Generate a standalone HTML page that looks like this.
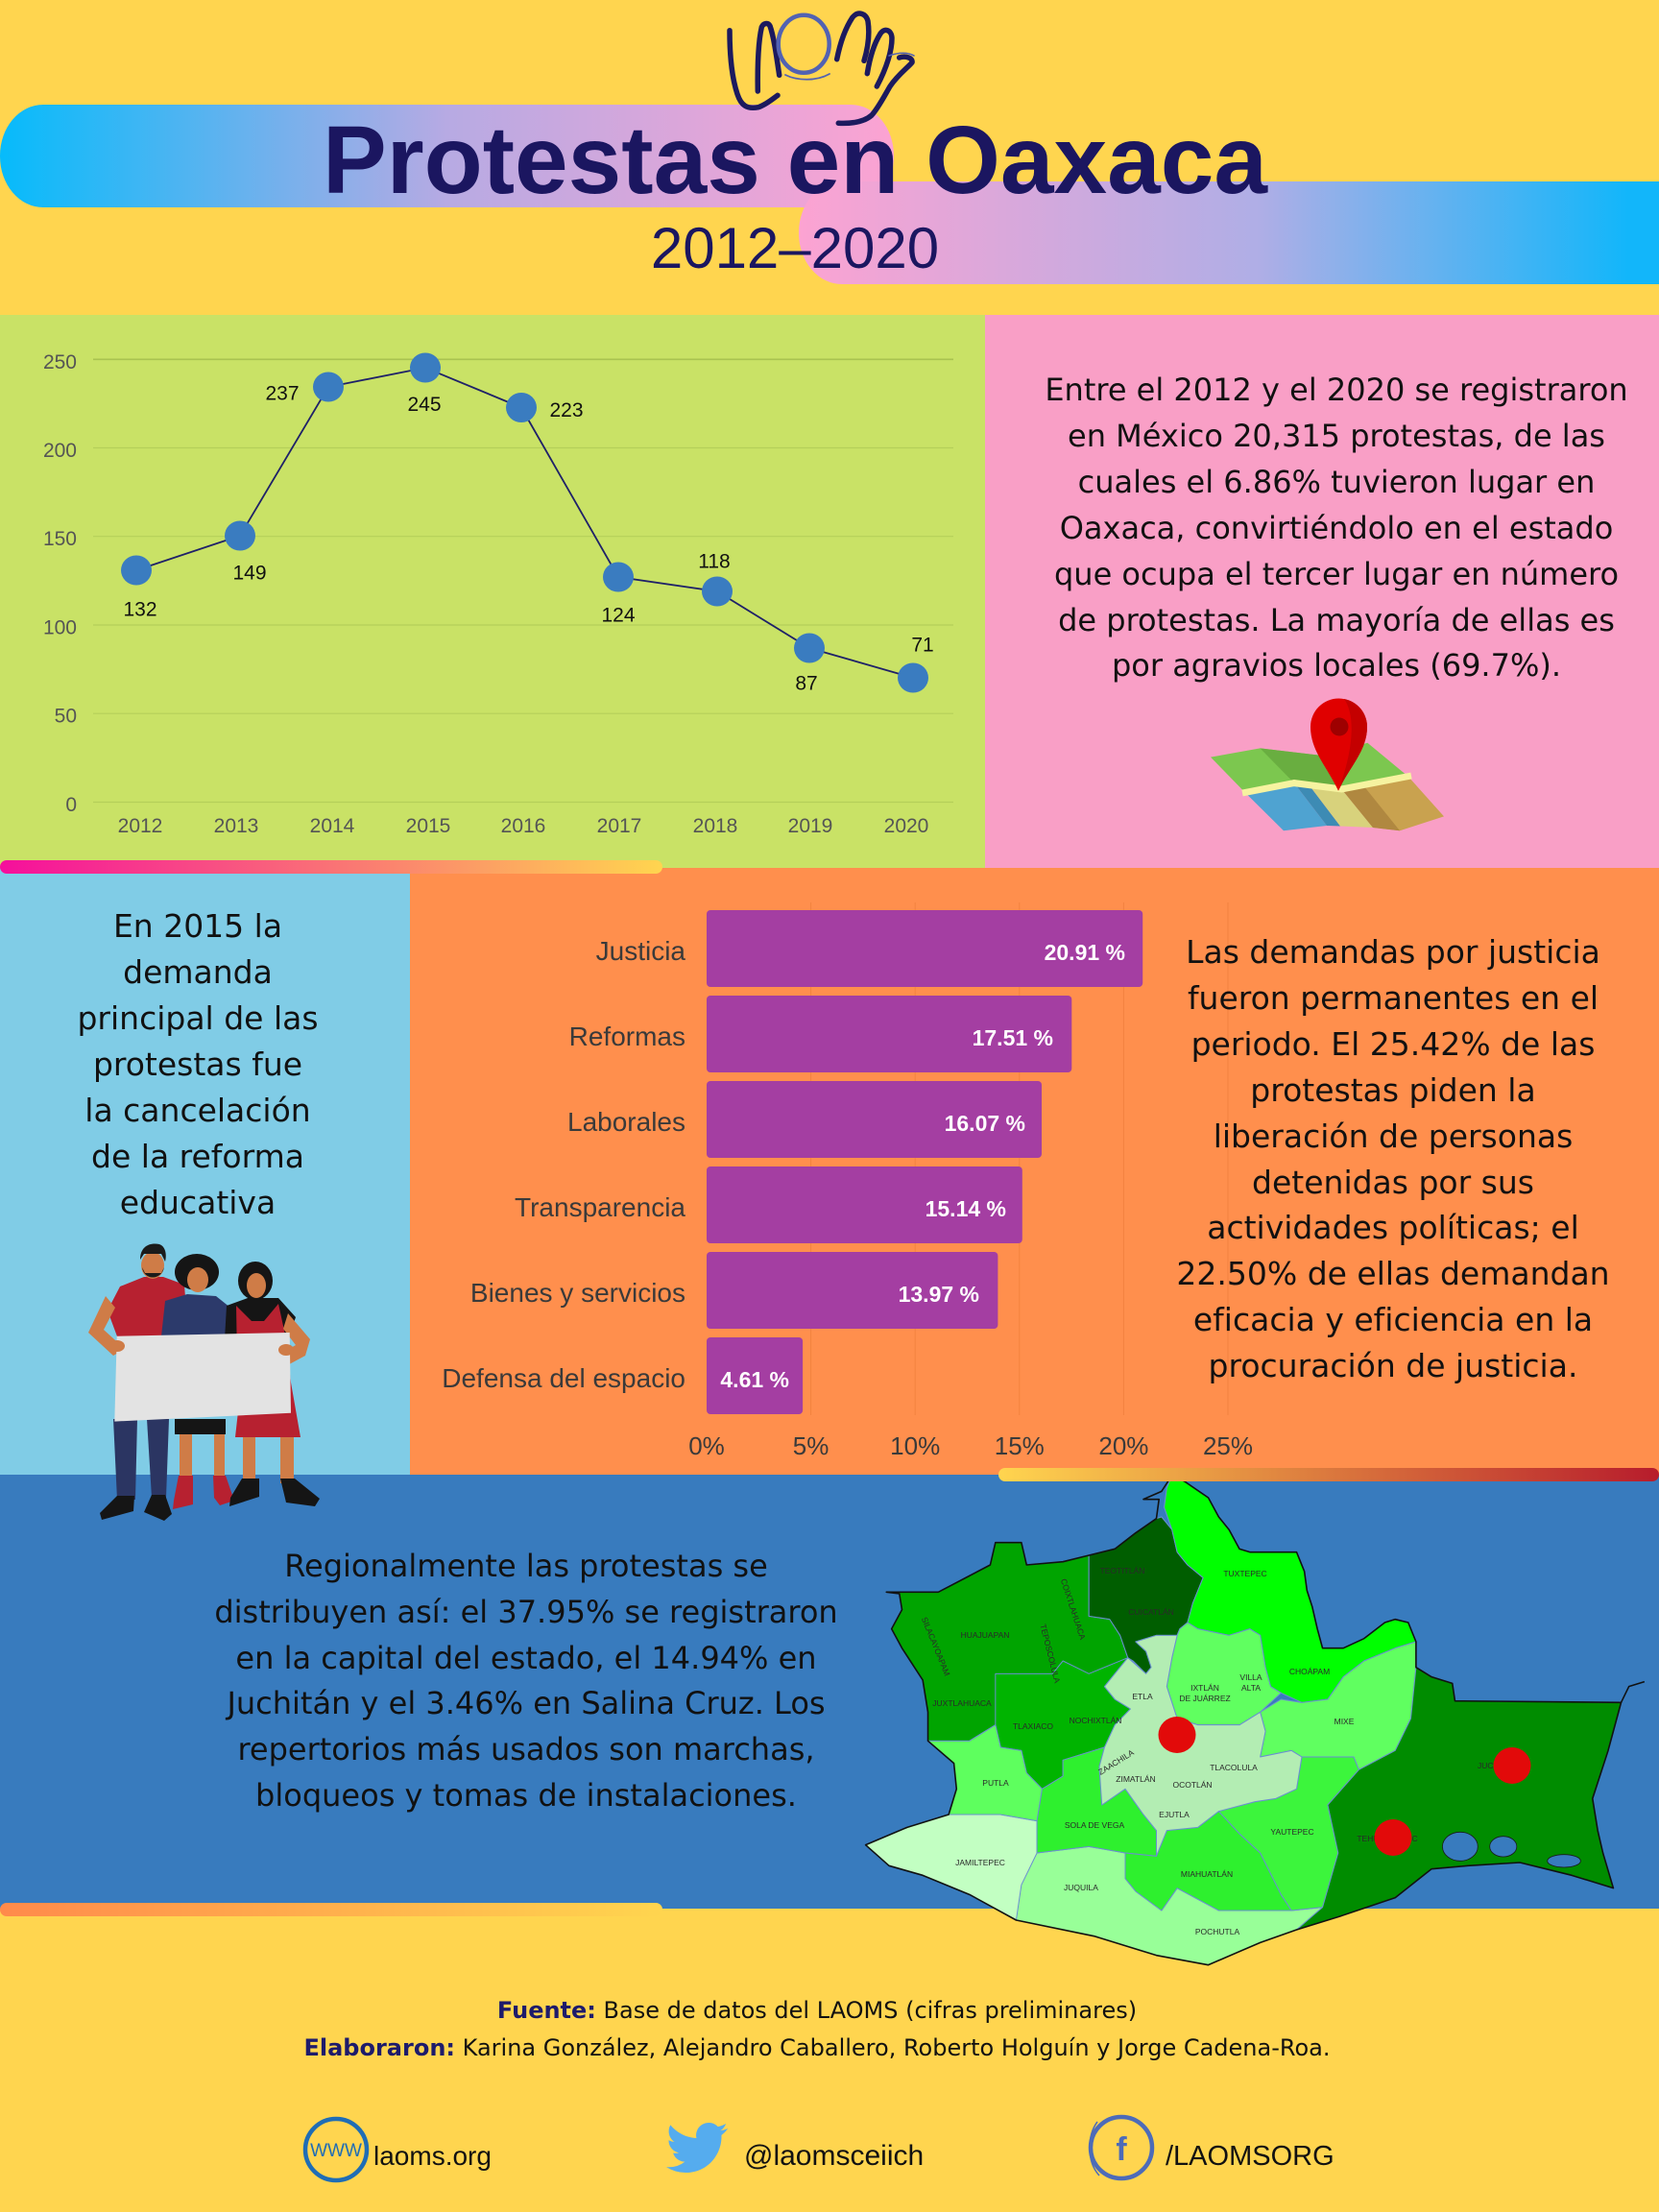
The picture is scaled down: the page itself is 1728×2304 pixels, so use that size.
<!DOCTYPE html>
<html lang="es">
<head>
<meta charset="utf-8">
<title>Protestas en Oaxaca 2012-2020</title>
<style>
  html,body{margin:0;padding:0;}
  body{width:1728px;height:2304px;position:relative;overflow:hidden;background:#FFD54F;}
  .p{position:absolute;font-family:"DejaVu Sans","Liberation Sans",sans-serif;color:#111;text-align:center;white-space:nowrap;}
  .f b{color:#1E1B6B;}
</style>
</head>
<body>
<svg xmlns="http://www.w3.org/2000/svg" width="1728" height="2304" viewBox="0 0 1728 2304" style="position:absolute;left:0;top:0">
  <defs>
    <linearGradient id="bandL" x1="0" x2="1" y1="0" y2="0">
      <stop offset="0" stop-color="#06BBFB"/><stop offset="0.5" stop-color="#B7AAE3"/><stop offset="1" stop-color="#FCA3D2"/>
    </linearGradient>
    <linearGradient id="bandR" x1="0" x2="1" y1="0" y2="0">
      <stop offset="0" stop-color="#FCA3D2"/><stop offset="0.5" stop-color="#AFAEE6"/><stop offset="0.9" stop-color="#12B6FA"/><stop offset="1" stop-color="#12B6FA"/>
    </linearGradient>
    <linearGradient id="g1" x1="0" x2="1" y1="0" y2="0">
      <stop offset="0" stop-color="#F50F9C"/><stop offset="1" stop-color="#FFD54F"/>
    </linearGradient>
    <linearGradient id="g2" x1="0" x2="1" y1="0" y2="0">
      <stop offset="0" stop-color="#FFD54F"/><stop offset="1" stop-color="#B71C2C"/>
    </linearGradient>
    <linearGradient id="g3" x1="0" x2="1" y1="0" y2="0">
      <stop offset="0" stop-color="#FF8A4B"/><stop offset="1" stop-color="#FFD54F"/>
    </linearGradient>
  </defs>

  <!-- background -->
  <rect x="0" y="0" width="1728" height="2304" fill="#FFD54F"/>

  <!-- header bands -->
  <rect x="0" y="109" width="931" height="107" rx="45" ry="53" fill="url(#bandL)"/>
  <rect x="832" y="189" width="960" height="107" rx="45" ry="53" fill="url(#bandR)"/>

  <!-- LAOMS logo -->
  <g fill="none" stroke-linecap="round" stroke-linejoin="round">
    <path d="M760,31.7 C760,55 762,80 768,98 C772,110 778,114 790,111.7 C798,109 805,103 810,99.3" stroke="#1C1A5E" stroke-width="5.5"/>
    <path d="M789.3,95 C789,75 789.5,45 793.3,28.3 C795,24 800,23 802,27 C806,38 809,60 811.7,78.3" stroke="#1C1A5E" stroke-width="5.5"/>
    <ellipse cx="837.2" cy="45.8" rx="26.5" ry="30" stroke="#5262B2" stroke-width="4.5"/>
    <path d="M818,78 C830,84 850,85 864,77" stroke="#5262B2" stroke-width="1.8"/>
    <path d="M871.7,61.7 C875,45 880,30 888,18 C894,11 902,14 904,22 C906,35 904,50 900,63.3" stroke="#1C1A5E" stroke-width="5.5"/>
    <path d="M903.3,76.7 C906,60 910,46 917,35 C922,28 929,32 929,40 C929,52 924,70 913.3,90" stroke="#1C1A5E" stroke-width="5.5"/>
    <path d="M936.7,60 C943,58 951,60 950,65 C946,70 935,78 927,90 C920,102 915,112 908,120 C900,127 888,129 873.3,128.3" stroke="#1C1A5E" stroke-width="5.5"/>
    <path d="M926,58 C935,55 945,54 952,58" stroke="#5262B2" stroke-width="1.6"/>
  </g>

  <!-- title -->
  <text x="828" y="201" text-anchor="middle" font-family="Liberation Sans, sans-serif" font-weight="bold" font-size="100" fill="#1B1660">Protestas en Oaxaca</text>
  <text x="828" y="279" text-anchor="middle" font-family="Liberation Sans, sans-serif" font-size="60" fill="#1B1660">2012–2020</text>

  <!-- panels -->
  <rect x="0" y="328" width="1026" height="576" fill="#C9E266"/>
  <rect x="1026" y="328" width="702" height="576" fill="#F99FC6"/>
  <rect x="0" y="904" width="427" height="632" fill="#80CCE6"/>
  <rect x="427" y="904" width="1301" height="632" fill="#FF8F4D"/>
  <rect x="0" y="1536" width="1728" height="452" fill="#387BBE"/>

  <!-- ===== Line chart ===== -->
  <g stroke="#B5CF5A" stroke-width="1.2">
    <line x1="97" y1="374.3" x2="993" y2="374.3" stroke="#A9C350" stroke-width="1.6"/>
    <line x1="97" y1="466.5" x2="993" y2="466.5"/>
    <line x1="97" y1="558.7" x2="993" y2="558.7"/>
    <line x1="97" y1="651" x2="993" y2="651"/>
    <line x1="97" y1="743.2" x2="993" y2="743.2"/>
    <line x1="97" y1="835.5" x2="993" y2="835.5"/>
  </g>
  <g font-family="Liberation Sans, sans-serif" font-size="21" fill="#555" text-anchor="end">
    <text x="80" y="383.8">250</text>
    <text x="80" y="476">200</text>
    <text x="80" y="568.2">150</text>
    <text x="80" y="660.5">100</text>
    <text x="80" y="752.7">50</text>
    <text x="80" y="845">0</text>
  </g>
  <g font-family="Liberation Sans, sans-serif" font-size="21" fill="#555" text-anchor="middle">
    <text x="146" y="867">2012</text>
    <text x="246" y="867">2013</text>
    <text x="346" y="867">2014</text>
    <text x="446" y="867">2015</text>
    <text x="545" y="867">2016</text>
    <text x="645" y="867">2017</text>
    <text x="745" y="867">2018</text>
    <text x="844" y="867">2019</text>
    <text x="944" y="867">2020</text>
  </g>
  <polyline points="142,594 250,558 342,403 443,383 543,424.5 644,601 747,616 843,675 951,706" fill="none" stroke="#1F2168" stroke-width="1.8"/>
  <g fill="#3A7CC0">
    <ellipse cx="142" cy="594" rx="16" ry="15.5"/>
    <ellipse cx="250" cy="558" rx="16" ry="15.5"/>
    <ellipse cx="342" cy="403" rx="16" ry="15.5"/>
    <ellipse cx="443" cy="383" rx="16" ry="15.5"/>
    <ellipse cx="543" cy="424.5" rx="16" ry="15.5"/>
    <ellipse cx="644" cy="601" rx="16" ry="15.5"/>
    <ellipse cx="747" cy="616" rx="16" ry="15.5"/>
    <ellipse cx="843" cy="675" rx="16" ry="15.5"/>
    <ellipse cx="951" cy="706" rx="16" ry="15.5"/>
  </g>
  <g font-family="Liberation Sans, sans-serif" font-size="21" fill="#111" text-anchor="middle">
    <text x="146" y="641.5">132</text>
    <text x="260" y="603.5">149</text>
    <text x="294" y="416.5">237</text>
    <text x="442" y="428">245</text>
    <text x="590" y="434">223</text>
    <text x="644" y="647.5">124</text>
    <text x="744" y="591.5">118</text>
    <text x="840" y="718.5">87</text>
    <text x="961" y="678.5">71</text>
  </g>

  <!-- ===== Map icon (pink panel) ===== -->
  <polygon points="1261,788.6 1312.5,779.4 1375,786.7 1424.4,773.8 1467,809 1397.5,822 1348,815.6 1297,825.6" fill="#7CC74F"/>
  <polygon points="1312.5,779.4 1375,786.7 1397.5,822 1348,815.6" fill="#69AE40"/>
  <polygon points="1297,825.6 1348,815.6 1382,860 1337,865.2" fill="#4FA3D1"/>
  <polygon points="1348,815.6 1363,817 1396,860.5 1382,860" fill="#3D8BB4"/>
  <polygon points="1363,817 1397.5,822 1430,862 1396,860.5" fill="#D8D27C"/>
  <polygon points="1397.5,822 1467,809 1504,850.4 1458,865.2 1430,862" fill="#C9A24F"/>
  <polygon points="1397.5,822 1420,818 1458,865.2 1430,862" fill="#B08840"/>
  <polyline points="1294,826 1348,815.6 1397.5,822 1470,808" fill="none" stroke="#F6F3A0" stroke-width="7"/>
  <path d="M1394,823.7 C1382,798 1365,782 1365,757 A29.5,29.5 0 1 1 1424,757 C1424,782 1406,798 1394,823.7 Z" fill="#E00000"/>
  <path d="M1394,823.7 C1406,798 1424,782 1424,757 A29.5,29.5 0 0 0 1400,728 C1412,745 1410,780 1394,823.7 Z" fill="#C40000"/>
  <circle cx="1395" cy="757" r="9.5" fill="#9E0000"/>

  <!-- ===== Bar chart ===== -->
  <g stroke="#F2823F" stroke-width="1">
    <line x1="844.6" y1="940" x2="844.6" y2="1474"/>
    <line x1="953.2" y1="940" x2="953.2" y2="1474"/>
    <line x1="1061.8" y1="940" x2="1061.8" y2="1474"/>
    <line x1="1170.4" y1="940" x2="1170.4" y2="1474"/>
    <line x1="1279" y1="940" x2="1279" y2="1474"/>
  </g>
  <g fill="#A43EA2">
    <rect x="736" y="948" width="454.2" height="80" rx="4"/>
    <rect x="736" y="1037" width="380.3" height="80" rx="4"/>
    <rect x="736" y="1126" width="349" height="80" rx="4"/>
    <rect x="736" y="1215" width="328.8" height="80" rx="4"/>
    <rect x="736" y="1304" width="303.4" height="80" rx="4"/>
    <rect x="736" y="1393" width="100.1" height="80" rx="4"/>
  </g>
  <g font-family="Liberation Sans, sans-serif" font-size="28" fill="#3A3A3A" text-anchor="end">
    <text x="714" y="1000">Justicia</text>
    <text x="714" y="1089">Reformas</text>
    <text x="714" y="1178">Laborales</text>
    <text x="714" y="1267">Transparencia</text>
    <text x="714" y="1356">Bienes y servicios</text>
    <text x="714" y="1445">Defensa del espacio</text>
  </g>
  <g font-family="Liberation Sans, sans-serif" font-size="23" font-weight="bold" fill="#FFFFFF" text-anchor="end">
    <text x="1172" y="1000">20.91 %</text>
    <text x="1097" y="1089">17.51 %</text>
    <text x="1068" y="1178">16.07 %</text>
    <text x="1048" y="1267">15.14 %</text>
    <text x="1020" y="1356">13.97 %</text>
    <text x="822" y="1445">4.61 %</text>
  </g>
  <g font-family="Liberation Sans, sans-serif" font-size="26" fill="#3A3A3A" text-anchor="middle">
    <text x="736" y="1515">0%</text>
    <text x="844.6" y="1515">5%</text>
    <text x="953.2" y="1515">10%</text>
    <text x="1061.8" y="1515">15%</text>
    <text x="1170.4" y="1515">20%</text>
    <text x="1279" y="1515">25%</text>
  </g>

  <!-- ===== Map of Oaxaca ===== -->
  <g transform="translate(880,1530) scale(0.54082,0.33333)" stroke="#6A8FD0" stroke-width="1" stroke-linejoin="round">
    <polygon vector-effect="non-scaling-stroke" fill="#98FF98" points="40,1175 120,1120 200,1080 300,1080 370,1100 370,1200 470,1180 540,1200 540,1280 560,1320 610,1380 640,1310 720,1380 800,1380 860,1380 920,1370 870,1440 800,1480 700,1550 600,1520 480,1460 330,1410 240,1330 150,1270 85,1240"/>
    <polygon vector-effect="non-scaling-stroke" fill="#C2FFC2" points="40,1175 120,1120 200,1080 300,1080 370,1100 370,1200 340,1300 330,1410 240,1330 150,1270 85,1240"/>
    <polygon vector-effect="non-scaling-stroke" fill="#00A400" points="80,385 105,390 110,440 90,500 110,560 150,660 160,760 160,850 240,850 290,800 300,870 340,880 350,950 380,1000 420,960 420,910 500,870 520,800 550,750 520,720 500,680 520,640 545,590 530,520 510,470 470,460 470,270 420,290 350,300 340,230 290,230 280,300 180,385"/>
    <polygon vector-effect="non-scaling-stroke" fill="#00B400" points="290,640 400,640 420,600 470,640 545,590 520,640 500,680 520,720 550,750 520,800 500,870 420,910 420,960 380,1000 350,950 340,880 300,870 290,800"/>
    <polygon vector-effect="non-scaling-stroke" fill="#005E00" points="470,270 520,250 560,200 600,155 610,150 630,190 640,260 660,300 690,340 670,420 660,480 645,500 640,520 600,520 560,540 580,570 590,620 580,640 555,600 545,590 530,520 510,470 470,460"/>
    <polygon vector-effect="non-scaling-stroke" fill="#00FF00" points="630,20 655,40 700,90 720,150 740,190 760,250 780,260 870,260 885,320 890,380 900,430 910,500 920,560 960,560 1000,530 1040,480 1060,470 1085,480 1100,540 1060,560 1000,600 960,650 930,720 880,730 840,700 820,680 810,620 800,520 780,500 740,520 680,500 660,480 670,420 690,340 660,300 640,260 630,190 615,120 620,60"/>
    <polygon vector-effect="non-scaling-stroke" fill="#5EFF5E" points="160,850 240,850 290,800 300,870 340,880 350,950 380,1000 370,1100 300,1080 200,1080 215,1000 210,920"/>
    <polygon vector-effect="non-scaling-stroke" fill="#2EF02E" points="380,1000 420,960 420,910 500,870 490,930 495,1050 540,1000 575,1080 600,1130 600,1210 540,1200 470,1180 370,1200 370,1100"/>
    <polygon vector-effect="non-scaling-stroke" fill="#2EF02E" points="540,1200 600,1210 620,1130 680,1120 720,1070 760,1140 800,1200 840,1330 860,1380 800,1380 720,1380 640,1310 610,1380 560,1320 540,1280"/>
    <polygon vector-effect="non-scaling-stroke" fill="#3CF53C" points="720,1070 790,1040 830,1030 870,1000 880,900 940,900 980,900 990,940 930,1050 950,1200 920,1370 860,1380 840,1330 800,1200 760,1140"/>
    <polygon vector-effect="non-scaling-stroke" fill="#60FF60" points="800,900 810,820 800,760 840,720 880,730 930,720 960,650 1000,600 1060,560 1100,540 1100,620 1090,780 1060,880 990,940 980,900 880,900 860,880"/>
    <polygon vector-effect="non-scaling-stroke" fill="#60FF60" points="630,590 640,520 645,500 660,480 680,500 740,520 780,500 800,520 810,620 820,680 840,700 800,760 760,800 720,800 680,800 640,780 620,680"/>
    <polygon vector-effect="non-scaling-stroke" fill="#B3EDB3" points="560,540 600,520 640,520 630,590 620,680 640,780 680,800 720,800 760,800 800,760 810,820 800,900 860,880 880,900 870,1000 830,1030 790,1040 720,1070 680,1120 620,1130 600,1210 600,1130 575,1080 540,1000 495,1050 490,930 500,870 520,800 550,750 520,720 500,680 520,640 545,590 580,640 590,620 580,570"/>
    <polygon vector-effect="non-scaling-stroke" fill="#008C00" points="990,940 1060,880 1090,780 1100,620 1130,650 1170,670 1175,725 1495,730 1470,880 1440,1030 1450,1130 1460,1200 1480,1310 1400,1270 1300,1230 1200,1240 1130,1250 1060,1340 950,1400 870,1440 920,1370 950,1200 930,1050"/>
    <g fill="#387BBE" stroke="#1a1a1a" stroke-width="0.8">
      <ellipse vector-effect="non-scaling-stroke" cx="1185" cy="1180" rx="34" ry="45"/>
      <ellipse vector-effect="non-scaling-stroke" cx="1268" cy="1180" rx="26" ry="32"/>
      <ellipse vector-effect="non-scaling-stroke" cx="1385" cy="1225" rx="32" ry="20"/>
    </g>
    <polygon vector-effect="non-scaling-stroke" fill="none" stroke="#111" stroke-width="1.6" points="630,20 655,40 700,90 720,150 740,190 760,250 780,260 870,260 885,320 890,380 900,430 910,500 920,560 960,560 1000,530 1040,480 1060,470 1085,480 1100,540 1100,620 1130,650 1170,670 1175,725 1495,730 1470,880 1440,1030 1450,1130 1460,1200 1480,1310 1400,1270 1300,1230 1200,1240 1130,1250 1060,1340 950,1400 870,1440 800,1480 700,1550 600,1520 480,1460 330,1410 240,1330 150,1270 85,1240 40,1175 120,1120 200,1080 215,1000 210,920 160,850 160,760 150,660 110,560 90,500 110,440 105,390 80,385 180,385 280,300 290,230 340,230 350,300 420,290 470,270 520,250 560,200 600,155 605,95 575,95 610,70"/>
    <polyline vector-effect="non-scaling-stroke" fill="none" stroke="#111" stroke-width="1.6" points="1495,730 1510,680 1540,665"/>
  </g>
  <g font-family="Liberation Sans, sans-serif" font-size="8.5" fill="#2a2a2a" text-anchor="middle">
    <text x="1169" y="1639">TEOTITLÁN</text>
    <text x="1199" y="1682">CUICATLÁN</text>
    <text x="1297" y="1642">TUXTEPEC</text>
    <text x="1026" y="1706">HUAJUAPAN</text>
    <text x="1002" y="1777">JUXTLAHUACA</text>
    <text x="1076" y="1801">TLAXIACO</text>
    <text x="1141" y="1795">NOCHIXTLÁN</text>
    <text x="1190" y="1770">ETLA</text>
    <text x="1255" y="1761">IXTLÁN</text>
    <text x="1255" y="1772">DE JUÁRREZ</text>
    <text x="1303" y="1750">VILLA</text>
    <text x="1303" y="1761">ALTA</text>
    <text x="1364" y="1744">CHOÁPAM</text>
    <text x="1400" y="1796">MIXE</text>
    <text x="1183" y="1856">ZIMATLÁN</text>
    <text x="1242" y="1862">OCOTLÁN</text>
    <text x="1285" y="1844">TLACOLULA</text>
    <text x="1223" y="1893">EJUTLA</text>
    <text x="1037" y="1860">PUTLA</text>
    <text x="1140" y="1904">SOLA DE VEGA</text>
    <text x="1346" y="1911">YAUTEPEC</text>
    <text x="1021" y="1943">JAMILTEPEC</text>
    <text x="1126" y="1969">JUQUILA</text>
    <text x="1257" y="1955">MIAHUATLÁN</text>
    <text x="1268" y="2015">POCHUTLA</text>
    <text x="1445" y="1918">TEHUANTEPEC</text>
    <text x="1560" y="1842">JUCHITÁN</text>
    <text transform="translate(972,1716) rotate(68)">SILACAYOAPAM</text>
    <text transform="translate(1115,1677) rotate(72)">COIXTLAHUACA</text>
    <text transform="translate(1091,1723) rotate(76)">TEPOSCOLULA</text>
    <text transform="translate(1164,1838) rotate(-32)">ZAACHILA</text>
  </g>
  <g fill="#E20A0A">
    <ellipse cx="1226" cy="1807" rx="19.5" ry="19"/>
    <ellipse cx="1575" cy="1839" rx="19.5" ry="19"/>
    <ellipse cx="1451" cy="1914" rx="19.5" ry="19"/>
  </g>

  <!-- gradient accent bars -->
  <rect x="0" y="896" width="690" height="14" rx="7" fill="url(#g1)"/>
  <rect x="1040" y="1529" width="688" height="14" rx="7" fill="url(#g2)"/>
  <rect x="0" y="1982" width="690" height="14" rx="7" fill="url(#g3)"/>

  <!-- ===== People illustration ===== -->
  <g>
    <polygon points="118,1478 143,1478 141,1562 122,1562" fill="#2B3562"/>
    <polygon points="153,1478 176,1478 173,1560 158,1560" fill="#2B3562"/>
    <polygon points="122,1558 140,1558 139,1574 106,1583 104,1576" fill="#151515"/>
    <polygon points="158,1557 172,1557 179,1577 171,1584 150,1575" fill="#151515"/>
    <rect x="182" y="1478" width="53" height="16" fill="#151515"/>
    <rect x="187" y="1494" width="13" height="46" fill="#CF7C47"/>
    <rect x="223" y="1494" width="11" height="46" fill="#CF7C47"/>
    <polygon points="186,1537 201,1537 201,1567 180,1572 181,1563" fill="#B72130"/>
    <polygon points="222,1537 235,1537 244,1563 229,1568 223,1560" fill="#B72130"/>
    <rect x="253" y="1490" width="13" height="55" fill="#CF7C47"/>
    <rect x="292" y="1490" width="14" height="55" fill="#CF7C47"/>
    <polygon points="252,1540 270,1540 270,1559 239,1569 240,1560" fill="#151515"/>
    <polygon points="292,1540 307,1540 333,1561 328,1569 298,1565" fill="#151515"/>
    <polygon points="125,1340 150,1330 170,1330 192,1338 196,1392 122,1392 112,1365" fill="#B72130"/>
    <polygon points="172,1355 195,1348 225,1350 240,1362 237,1392 168,1392" fill="#2C3A6B"/>
    <polygon points="236,1360 258,1352 290,1352 308,1372 300,1395 234,1395" fill="#151515"/>
    <polygon points="246,1360 262,1376 275,1376 290,1358 298,1395 303,1440 313,1497 245,1497 248,1470" fill="#B72130"/>
    <polygon points="110,1350 92,1388 118,1412 130,1405 108,1385 120,1362" fill="#CF7C47"/>
    <polygon points="300,1368 323,1395 318,1412 292,1426 286,1414 308,1401 295,1384" fill="#CF7C47"/>
    <ellipse cx="159" cy="1318" rx="12" ry="14" fill="#CF7C47"/>
    <path d="M146,1312 C146,1298 156,1294 166,1296 C172,1298 174,1306 172,1314 L168,1306 L150,1306 Z" fill="#1B1B1B"/>
    <path d="M148,1320 C150,1334 168,1334 171,1320 L168,1326 L151,1326 Z" fill="#1B1B1B"/>
    <ellipse cx="205" cy="1325" rx="23" ry="19" fill="#151515"/>
    <ellipse cx="206" cy="1333" rx="11" ry="13" fill="#CF7C47"/>
    <ellipse cx="266" cy="1334" rx="18" ry="20" fill="#151515"/>
    <ellipse cx="267" cy="1339" rx="10" ry="13" fill="#CF7C47"/>
    <polygon points="121.7,1391.7 301.7,1388 303,1471.8 119.3,1480.6" fill="#E3E3E3"/>
    <ellipse cx="122" cy="1402" rx="8" ry="6" fill="#CF7C47"/>
    <ellipse cx="298" cy="1406" rx="8" ry="6" fill="#CF7C47"/>
  </g>

  <!-- ===== Footer icons ===== -->
  <circle cx="350" cy="2239" r="32" fill="none" stroke="#1F6DB5" stroke-width="4.5"/>
  <text x="350" y="2246" text-anchor="middle" font-family="Liberation Sans, sans-serif" font-size="19" fill="#1F6DB5">WWW</text>
  <text x="389" y="2255" font-family="Liberation Sans, sans-serif" font-size="28" fill="#111">laoms.org</text>

  <svg x="694" y="2205" width="64" height="64" viewBox="0 0 24 24">
    <path fill="#55ACEE" d="M23.953 4.57a10 10 0 01-2.825.775 4.958 4.958 0 002.163-2.723c-.951.555-2.005.959-3.127 1.184a4.92 4.92 0 00-8.384 4.482C7.690 8.095 4.067 6.130 1.640 3.162a4.822 4.822 0 00-.666 2.475c0 1.71.87 3.213 2.188 4.096a4.904 4.904 0 01-2.228-.616v.06a4.923 4.923 0 003.946 4.827 4.996 4.996 0 01-2.212.085 4.936 4.936 0 004.604 3.417 9.867 9.867 0 01-6.102 2.105c-.39 0-.779-.023-1.17-.067a13.995 13.995 0 007.557 2.209c9.053 0 13.998-7.496 13.998-13.985 0-.21 0-.42-.015-.63A9.935 9.935 0 0024 4.59z"/>
  </svg>
  <text x="775" y="2255" font-family="Liberation Sans, sans-serif" font-size="30" fill="#111">@laomsceiich</text>

  <circle cx="1168" cy="2237" r="32" fill="none" stroke="#4D6BB8" stroke-width="4.5"/>
  <path d="M1143,2210 C1132,2225 1132,2252 1145,2266" fill="none" stroke="#4D6BB8" stroke-width="1.5"/>
  <text x="1168" y="2250" text-anchor="middle" font-family="Liberation Sans, sans-serif" font-weight="bold" font-size="34" fill="#4D6BB8">f</text>
  <text x="1214" y="2255" font-family="Liberation Sans, sans-serif" font-size="29" fill="#111">/LAOMSORG</text>
</svg>

<!-- Text blocks -->
<div class="p" style="left:1056px;width:672px;top:383px;font-size:32px;line-height:47.9px;">
Entre el 2012 y el 2020 se registraron<br>
en México 20,315 protestas, de las<br>
cuales el 6.86% tuvieron lugar en<br>
Oaxaca, convirtiéndolo en el estado<br>
que ocupa el tercer lugar en número<br>
de protestas. La mayoría de ellas es<br>
por agravios locales (69.7%).
</div>

<div class="p" style="left:0px;width:412px;top:941px;font-size:33px;line-height:48px;">
En 2015 la<br>
demanda<br>
principal de las<br>
protestas fue<br>
la cancelación<br>
de la reforma<br>
educativa
</div>

<div class="p" style="left:1171px;width:560px;top:968px;font-size:33px;line-height:47.9px;">
Las demandas por justicia<br>
fueron permanentes en el<br>
periodo. El 25.42% de las<br>
protestas piden la<br>
liberación de personas<br>
detenidas por sus<br>
actividades políticas; el<br>
22.50% de ellas demandan<br>
eficacia y eficiencia en la<br>
procuración de justicia.
</div>

<div class="p" style="left:148px;width:800px;top:1608px;font-size:32px;line-height:47.8px;">
Regionalmente las protestas se<br>
distribuyen así: el 37.95% se registraron<br>
en la capital del estado, el 14.94% en<br>
Juchitán y el 3.46% en Salina Cruz. Los<br>
repertorios más usados son marchas,<br>
bloqueos y tomas de instalaciones.
</div>

<div class="p f" style="left:251px;width:1200px;top:2075px;font-size:24px;line-height:39px;">
<b>Fuente:</b> Base de datos del LAOMS (cifras preliminares)<br>
<b>Elaboraron:</b> Karina González, Alejandro Caballero, Roberto Holguín y Jorge Cadena-Roa.
</div>
</body>
</html>
